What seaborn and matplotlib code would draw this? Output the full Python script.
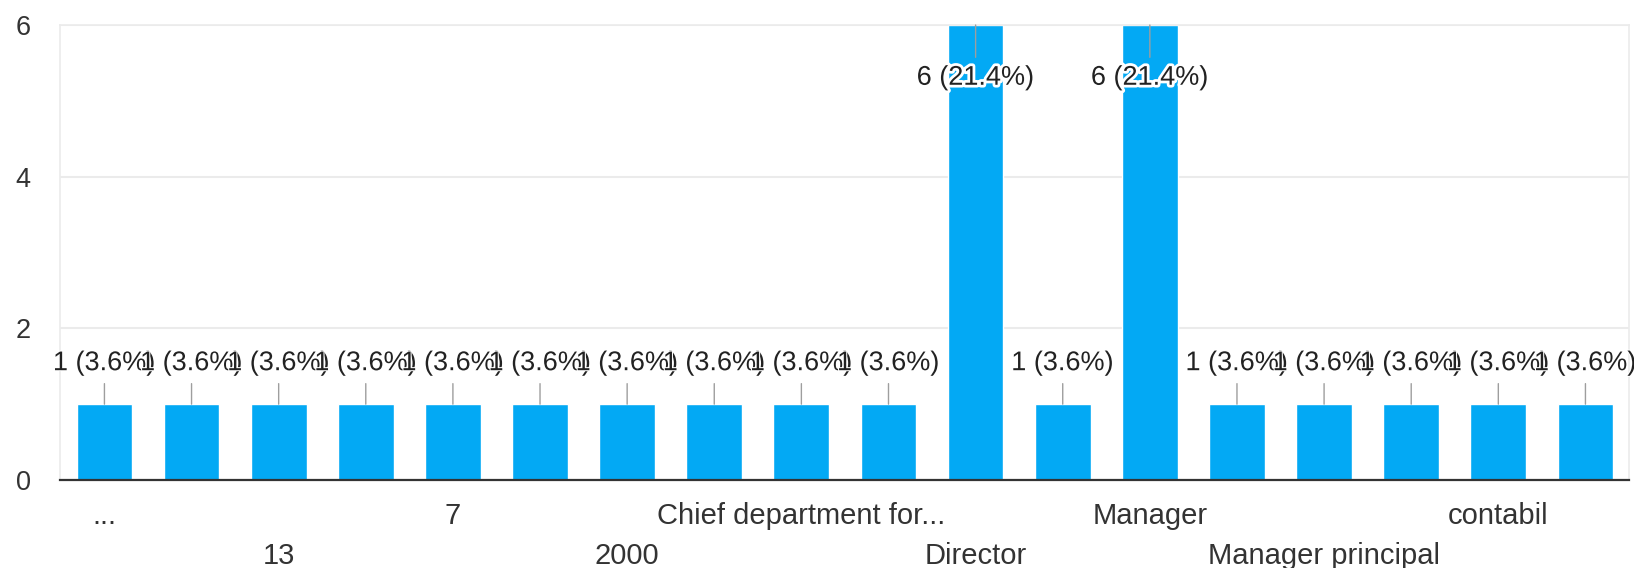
import matplotlib
matplotlib.use("Agg")
import matplotlib.pyplot as plt
import matplotlib.patheffects as pe
import pandas as pd
import seaborn as sns

# Responses per job title; Google only prints every other category name
tick_labels = ["...", "", "13", "", "7", "", "2000", "", "Chief department for...", "",
               "Director", "", "Manager", "", "Manager principal", "", "contabil", ""]
counts = [1, 1, 1, 1, 1, 1, 1, 1, 1, 1, 6, 1, 6, 1, 1, 1, 1, 1]
y_ticks = [0, 2, 4, 6]

BAR_COLOR = "#03a9f4"
TEXT_COLOR = "#333333"
GRID_COLOR = "#ebebeb"

total = sum(counts)
df = pd.DataFrame({"position": range(len(counts)), "count": counts})

sns.set_theme(style="white")
plt.rcParams["font.family"] = ["Liberation Sans", "DejaVu Sans"]

W, H = 1634, 568
fig = plt.figure(figsize=(W / 100, H / 100), dpi=100)
ax = fig.add_axes([60 / W, 88 / H, 1569 / W, 455 / H])

sns.barplot(data=df, x="position", y="count", color=BAR_COLOR, saturation=1,
            width=0.64, ax=ax, zorder=2)

ax.set_xlim(-0.51, len(counts) - 0.5)
ax.set_ylim(0, 6)
ax.set_yticks(y_ticks)
ax.set_xticks(range(len(counts)))
ax.set_xticklabels(tick_labels)
ax.set_xlabel("")
ax.set_ylabel("")

ax.yaxis.grid(True, color=GRID_COLOR, lw=1.5, zorder=0)
ax.set_axisbelow(True)
for side in ["left", "right", "top"]:
    ax.spines[side].set_color(GRID_COLOR)
    ax.spines[side].set_linewidth(1.2)
ax.spines["bottom"].set_color("#333333")
ax.spines["bottom"].set_linewidth(1.6)
ax.spines["bottom"].set_zorder(4)

ax.tick_params(axis="x", length=0, pad=15.5, labelsize=21, labelcolor=TEXT_COLOR)
ax.tick_params(axis="y", length=0, pad=21, labelsize=19.5, labelcolor=TEXT_COLOR)

# stagger the visible category names on two rows
shown = [lab for lab in ax.get_xticklabels() if lab.get_text()]
for k, lab in enumerate(shown):
    if k % 2 == 1:
        lab.set_y(-40 / 455)

# value labels with leader lines, inside the bar when it reaches the top
for pos, value in enumerate(counts):
    text = f"{value} ({value / total * 100:.1f}%)"
    inside = value == max(counts)
    offset = -38 if inside else 29.5
    halo = 4 if inside else 1.5
    ax.annotate(text, xy=(pos, value), xytext=(0, offset), textcoords="offset points",
                ha="center", va="center", fontsize=19.5, color="#222222",
                path_effects=[pe.withStroke(linewidth=halo, foreground="white")],
                arrowprops=dict(arrowstyle="-", color="#9e9e9e", lw=1,
                                shrinkA=3, shrinkB=0),
                zorder=3, annotation_clip=False)

fig.savefig("out.png", dpi=100)
